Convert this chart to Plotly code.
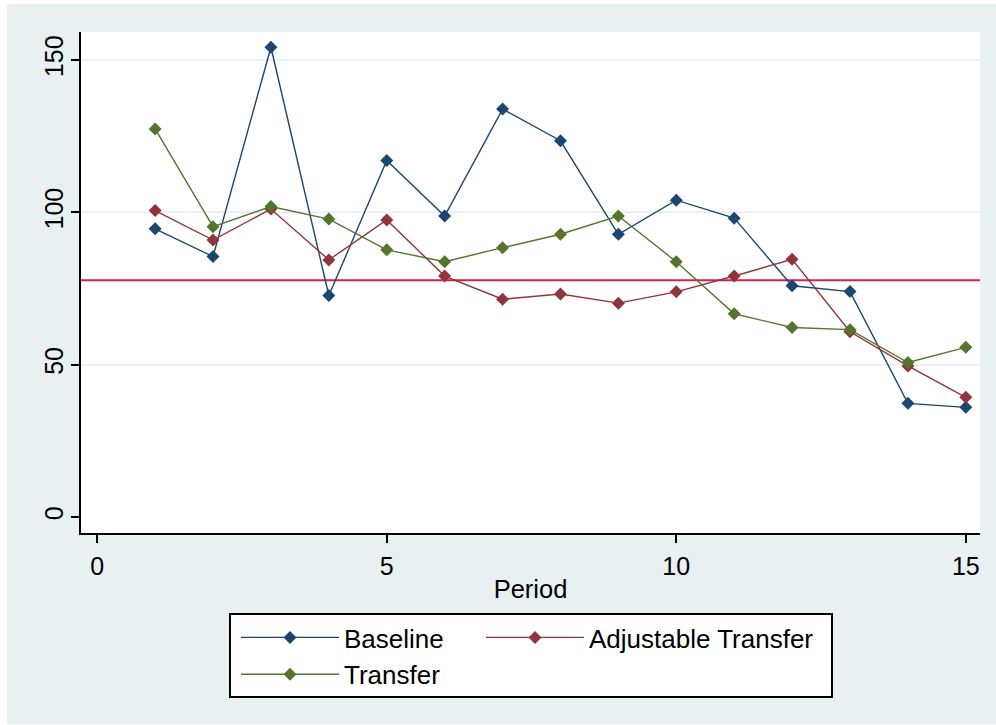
import plotly.graph_objects as go

# ---- data ----
periods = list(range(1, 16))
baseline = [94.6, 85.5, 154.2, 72.7, 117.0, 98.8, 133.9, 123.5, 92.8, 104.0, 98.1, 75.9, 74.0, 37.3, 36.0]
adjustable_transfer = [100.6, 90.9, 101.1, 84.4, 97.5, 79.1, 71.5, 73.2, 70.2, 73.9, 79.1, 84.6, 60.8, 49.6, 39.3]
transfer = [127.4, 95.3, 101.9, 97.8, 87.7, 83.8, 88.4, 92.8, 98.8, 83.8, 66.7, 62.2, 61.5, 50.7, 55.7]
reference_level = 77.7
x_ticks = [0, 5, 10, 15]
y_ticks = [0, 50, 100, 150]
grid_vals = [50, 100, 150]

names = ["Baseline", "Adjustable Transfer", "Transfer"]
colors = ["#1A476F", "#90353B", "#55752F"]
series = [baseline, adjustable_transfer, transfer]
legends = ["legend", "legend2", "legend"]

W, H = 996, 725
ML, MR, MT, MB = 81, 16, 32, 192
PW, PH = W - ML - MR, H - MT - MB
BG = "#E8F0F2"
FONT = "Liberation Sans, Arial, sans-serif"


def px_x(p):
    return (p - ML) / PW


def px_y(p):
    return (H - MB - p) / PH


fig = go.Figure()
for name, col, ys, lg in zip(names, colors, series, legends):
    fig.add_trace(go.Scatter(
        x=periods, y=ys, name=name, mode="lines+markers",
        line=dict(color=col, width=1.4),
        marker=dict(symbol="diamond", size=10, color=col),
        legend=lg, legendgroup=name,
    ))

shapes = []
# white outer strips
shapes.append(dict(type="rect", xref="paper", yref="paper", x0=px_x(0), x1=px_x(7), y0=px_y(H), y1=px_y(0),
                   fillcolor="white", line=dict(width=0), layer="below"))
shapes.append(dict(type="rect", xref="paper", yref="paper", x0=px_x(0), x1=px_x(W), y0=px_y(4), y1=px_y(0),
                   fillcolor="white", line=dict(width=0), layer="below"))
shapes.append(dict(type="rect", xref="paper", yref="paper", x0=px_x(0), x1=px_x(W), y0=px_y(H), y1=px_y(724),
                   fillcolor="white", line=dict(width=0), layer="below"))
# grid lines
for g in grid_vals:
    shapes.append(dict(type="line", xref="paper", yref="y", x0=0, x1=1, y0=g, y1=g,
                       line=dict(color="#E6EEF1", width=1.5), layer="below"))
# reference line
shapes.append(dict(type="line", xref="paper", yref="y", x0=0, x1=1, y0=reference_level, y1=reference_level,
                   line=dict(color="#D0214F", width=2), layer="below"))
# legend box
shapes.append(dict(type="rect", xref="paper", yref="paper", x0=px_x(230), x1=px_x(832), y0=px_y(697), y1=px_y(614),
                   fillcolor="white", line=dict(color="black", width=2), layer="above"))

LEGFONT = dict(size=26, color="black")
fig.update_layout(
    width=W, height=H,
    margin=dict(l=ML, r=MR, t=MT, b=MB, autoexpand=False),
    paper_bgcolor=BG, plot_bgcolor="white",
    font=dict(family=FONT, size=25, color="black"),
    shapes=shapes,
    showlegend=True,
    legend=dict(x=px_x(236), y=px_y(614), xanchor="left", yanchor="top", orientation="v",
                bgcolor="rgba(0,0,0,0)", borderwidth=0, itemwidth=98, tracegroupgap=0,
                font=LEGFONT),
    legend2=dict(x=px_x(481), y=px_y(614), xanchor="left", yanchor="top", orientation="v",
                 bgcolor="rgba(0,0,0,0)", borderwidth=0, itemwidth=98, tracegroupgap=0,
                 font=LEGFONT),
    xaxis=dict(range=[-0.28, 15.245], tickvals=x_ticks, ticktext=[str(v) for v in x_ticks],
               showgrid=False, zeroline=False, showline=True, linecolor="black", linewidth=2,
               ticks="outside", ticklen=8, tickwidth=2, tickcolor="black",
               ticklabelstandoff=2, tickfont=dict(size=25),
               title=dict(text="Period", font=dict(size=25.5), standoff=1)),
    yaxis=dict(range=[-5.25, 159.2], tickvals=y_ticks, ticktext=[str(v) for v in y_ticks],
               showgrid=False, zeroline=False, showline=True, linecolor="black", linewidth=2,
               ticks="outside", ticklen=8, tickwidth=2, tickcolor="black",
               tickangle=-90, ticklabelstandoff=-2, tickfont=dict(size=25)),
)

fig.write_html("out.html", config={"displayModeBar": False},
               post_script="document.body.style.margin='0px';")
